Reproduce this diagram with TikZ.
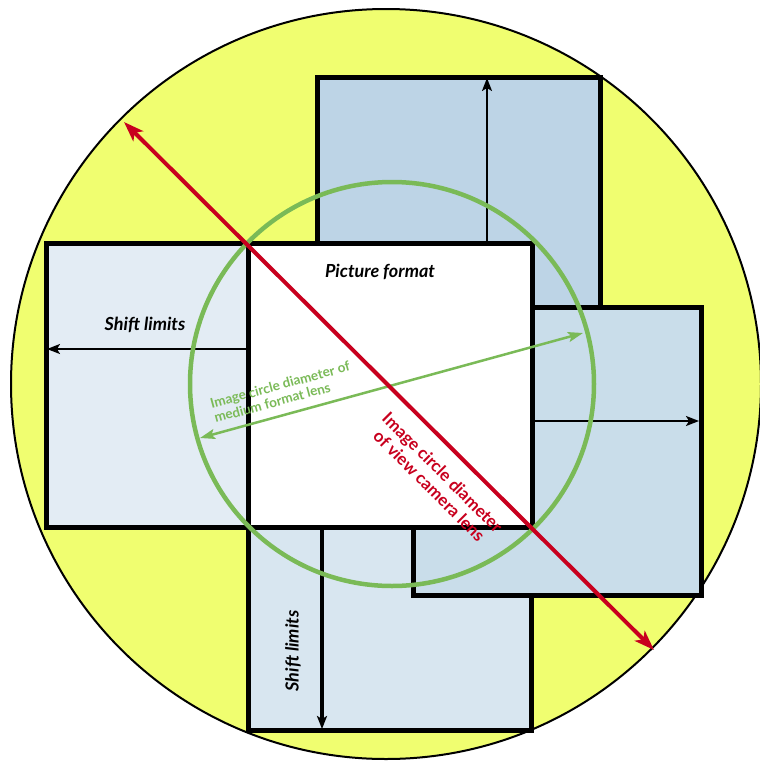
\documentclass[tikz,border=0pt]{standalone}
\usepackage{fontspec}
\setmainfont{Lato}
\usetikzlibrary{arrows.meta}
\definecolor{yel}{RGB}{240,254,112}
\definecolor{rleft}{RGB}{227,236,244}
\definecolor{rtop}{RGB}{189,212,230}
\definecolor{rright}{RGB}{201,221,234}
\definecolor{rbottom}{RGB}{216,230,240}
\definecolor{grn}{RGB}{122,186,87}
\definecolor{redd}{RGB}{200,0,30}
\tikzset{
  frame/.style={draw=black,line width=5pt,line join=miter},
  shiftarrow/.style={draw=black,line width=2pt,-{Stealth[length=13pt,width=10pt,inset=3pt]}},
  lbl/.style={font=\fontsize{18}{20}\selectfont\bfseries\itshape,text=black,inner sep=0pt},
  greenlbl/.style={font=\fontsize{13.5}{15}\selectfont\bfseries,text=grn,inner sep=0pt,align=left},
  redlbl/.style={font=\fontsize{17}{19}\selectfont\bfseries,text=redd,inner sep=0pt,align=center}
}
\begin{document}
\begin{tikzpicture}[x=1pt,y=-1pt]
\useasboundingbox (0,0) rectangle (760,761);
% big image circle
\coordinate (C) at (386,384);
\fill[yel] (C) circle (375pt);
\draw[black,line width=2pt] (C) circle (375pt);
% shifted formats
\filldraw[frame,fill=rleft] (46,243) rectangle (330,527);
\filldraw[frame,fill=rtop] (317,77) rectangle (600,360);
\filldraw[frame,fill=rbottom] (248,446) rectangle (531,730);
\filldraw[frame,fill=rright] (413,307) rectangle (701,595);
% picture format
\filldraw[frame,fill=white] (248,243) rectangle (532,527);
% shift arrows
\coordinate (l0) at (248,349); \coordinate (l1) at (47,349);
\coordinate (u0) at (487,243); \coordinate (u1) at (487,78);
\coordinate (r0) at (532,421); \coordinate (r1) at (699,421);
\coordinate (d0) at (322,527); \coordinate (d1) at (322,729);
\draw[shiftarrow] (l0) -- (l1);
\draw[shiftarrow] (u0) -- (u1);
\draw[shiftarrow] (r0) -- (r1);
\draw[shiftarrow,line width=4pt] (d0) -- (d1);
% medium format circle
\coordinate (G) at (392,384);
\draw[grn,line width=4.5pt] (G) circle (202pt);
\coordinate (g0) at (200,438); \coordinate (g1) at (583,333);
\draw[grn,line width=2.5pt,{Stealth[length=15pt,width=10pt,inset=3pt]}-{Stealth[length=15pt,width=10pt,inset=3pt]}] (g0) -- (g1);
% view camera diameter
\coordinate (q0) at (124,122); \coordinate (q1) at (654,650);
\draw[redd,line width=4pt,{Stealth[length=20pt,width=14pt,inset=5pt]}-{Stealth[length=20pt,width=14pt,inset=5pt]}] (q0) -- (q1);
% labels
\node[lbl] (pf) at (380,272) {Picture format};
\node[lbl] (sl1) at (145,325) {Shift limits};
\node[lbl,rotate=90] (sl2) at (293,651) {Shift limits};
\node[greenlbl,rotate=15.2] (gl) at (282,392) {Image circle diameter of\\medium format lens};
\node[redlbl,rotate=-45] (rl) at (436,479) {Image circle diameter\\of view camera lens};
\end{tikzpicture}
\end{document}
